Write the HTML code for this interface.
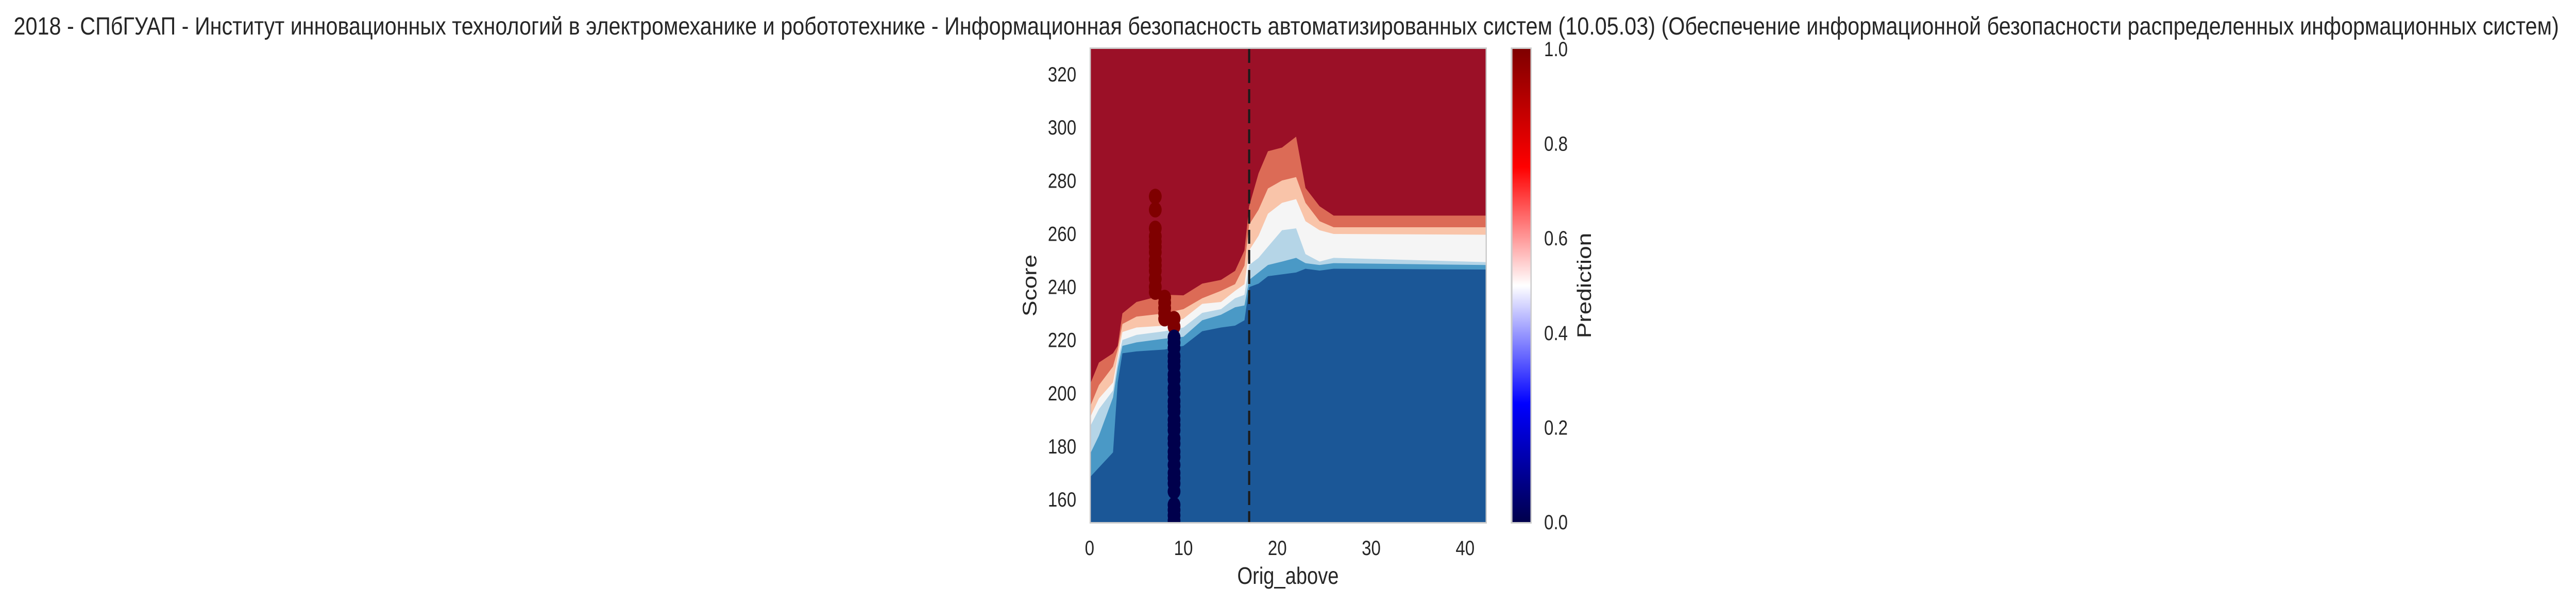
<!DOCTYPE html>
<html><head><meta charset="utf-8"><style>
html,body{margin:0;padding:0;background:#fff;width:100%;height:100%;overflow:hidden;}
svg{display:block;font-family:"Liberation Sans","DejaVu Sans",sans-serif;overflow:hidden;width:100vw;height:100vh;}
</style></head><body>
<svg id="chart" viewBox="0 0 6036 1174" preserveAspectRatio="none" xmlns="http://www.w3.org/2000/svg">
<defs>
<linearGradient id="seis" x1="0" y1="1" x2="0" y2="0">
<stop offset="0" stop-color="#00004c"/><stop offset="0.25" stop-color="#0000ff"/><stop offset="0.5" stop-color="#ffffff"/><stop offset="0.75" stop-color="#ff0000"/><stop offset="1" stop-color="#7f0000"/>
</linearGradient>
<clipPath id="pclip"><rect x="2556" y="95" width="925" height="918"/></clipPath>
</defs>
<text x="32" y="67" font-size="48" fill="#262626" textLength="5964" lengthAdjust="spacingAndGlyphs">2018 - СПбГУАП - Институт инновационных технологий в электромеханике и робототехнике - Информационная безопасность автоматизированных систем (10.05.03) (Обеспечение информационной безопасности распределенных информационных систем)</text>
<rect x="2553" y="92" width="931" height="924" fill="#cccccc"/>
<g id="plot" clip-path="url(#pclip)"></g>
<g id="axes"></g>
<rect x="3540" y="92" width="49" height="924" fill="#cccccc"/>
<rect x="3544" y="95" width="42" height="918" fill="url(#seis)"/>
<text x="0" y="0" font-size="46" fill="#262626" text-anchor="middle" transform="translate(3728,554) rotate(-90)">Prediction</text>
<text x="0" y="0" font-size="46" fill="#262626" text-anchor="middle" transform="translate(2428,554) rotate(-90)">Score</text>
<text x="3018" y="1133" font-size="46" fill="#262626" text-anchor="middle">Orig_above</text>
</svg>
<script>
const xTicks = [0, 10, 20, 30, 40];
const yTicks = [160, 180, 200, 220, 240, 260, 280, 300, 320];
const cbTicks = ["0.0", "0.2", "0.4", "0.6", "0.8", "1.0"];
const gridX = [0, 1, 2.5, 3, 3.5, 5, 8, 10, 12, 14, 15.5, 16.5, 17, 18, 19, 20.5, 22, 23, 24.5, 26, 42.4];
const bRedSalmon = [204, 211.5, 215, 217.8, 230, 234.3, 237, 236.8, 241.2, 242.6, 246, 253.7, 270.3, 282.7, 291, 292.4, 296.5, 277.2, 270.3, 266.8, 266.8];
const bSalmonPeach = [195.6, 203, 210, 216.4, 226, 228.8, 230, 231.6, 235.7, 238.5, 241, 248, 263.4, 269, 277, 280, 281.3, 271.6, 264.7, 262.4, 262.4];
const bPeachWhite = [191.5, 198, 204, 213.6, 223, 224.7, 225.4, 228, 233.6, 234.3, 238.5, 241, 253.7, 259.2, 267.5, 271.6, 273, 264.7, 261.3, 259.9, 259.6];
const bWhiteLight = [188, 194, 201, 212, 220, 221.9, 223.3, 224.7, 230.2, 231.6, 235.7, 237, 248.2, 250.9, 255.1, 261.3, 262, 252.3, 249.5, 250.9, 249.3];
const bLightMid = [177.7, 184, 198.4, 209.5, 217.8, 219.1, 220.5, 221.2, 227.4, 229.5, 232.3, 233, 242.6, 245.4, 248.2, 249.5, 250.9, 248.9, 248.2, 248.9, 248.2];
const bMidDark = [168.7, 172, 177.7, 204, 215, 215.7, 216.4, 217.8, 223.3, 224.7, 225.4, 227.4, 239.9, 241.2, 244, 244.7, 245.4, 246.8, 246.1, 246.8, 246.5];
const posX = [7,7,7,7,7,7,7,7,7,7,7,7,7,8,8,8,8,8,9,9];
const posY = [274,269,262,259,257,255,253,250,248,246,243,240,238,236,234,232,230,228,228,225];
const negX = [9,9,9,9,9,9,9,9,9,9,9,9,9,9,9,9,9,9,9,9,9,9,9,9,9,9,9,9,9];
const negY = [221,219,217,214,212,210,207,205,202,200,197,195,193,190,188,186,183,181,178,176,173,170,168,166,163,158,156,154,152];
const cutoffX = 17;

const X0=2556, X1=3481, Y0=95, Y1=1013;
const yMin=151.5, yMax=329.5;
const sx = v => 2553 + v*22;
const sy = v => Y1 - (v-yMin)/(yMax-yMin)*(Y1-Y0);
const NS='http://www.w3.org/2000/svg';
const plot=document.getElementById('plot'), axes=document.getElementById('axes');
function mk(tag, attrs, parent){const e=document.createElementNS(NS,tag);for(const k in attrs)e.setAttribute(k,attrs[k]);parent.appendChild(e);return e;}

const bg = mk('rect',{x:X0,y:Y0,width:X1-X0,height:Y1-Y0,fill:'#9b1027'},plot);


const bands=[[bRedSalmon,'#dc6b56','salmon'],[bSalmonPeach,'#f9c4a9','peach'],[bPeachWhite,'#f5f5f5','white'],[bWhiteLight,'#b5d5e7','light-blue'],[bLightMid,'#4a99c6','mid-blue'],[bMidDark,'#1b5797','dark-blue']];
bands.forEach(([arr,col,nm])=>{
  let d='M'+X0+','+Y1;
  gridX.forEach((gx,i)=>{ const xx = i===0? X0 : (i===gridX.length-1? X1 : sx(gx)); d+=' L'+xx+','+sy(arr[i]); });
  d+=' L'+X1+','+Y1+' Z';
  const p=mk('path',{d:d,fill:col},plot);
  
  
});
posX.forEach((v,i)=>{
  const c=mk('circle',{cx:sx(v),cy:sy(posY[i]),r:15,fill:'#7f0000'},plot);
  
  
});
negX.forEach((v,i)=>{
  const c=mk('circle',{cx:sx(v),cy:sy(negY[i]),r:15,fill:'#00004c'},plot);
  
  
});
const ln=mk('line',{x1:sx(cutoffX),x2:sx(cutoffX),y1:Y0,y2:Y1,stroke:'#1a1a1a','stroke-width':5,'stroke-dasharray':'27,12'},plot);



xTicks.forEach(v=>{
  const t=mk('text',{x:sx(v),y:1077,'font-size':40,'text-anchor':'middle',fill:'#262626'},axes);
  t.textContent=v;
  
  
});
yTicks.forEach(v=>{
  const t=mk('text',{x:2522,y:sy(v)+14,'font-size':40,'text-anchor':'end',fill:'#262626'},axes);
  t.textContent=v;
  
  
});
cbTicks.forEach((v,i)=>{
  const t=mk('text',{x:3618,y:Y1-(Y1-Y0)*i/(cbTicks.length-1)+14,'font-size':40,fill:'#262626'},axes);
  t.textContent=v;
  
  
});
</script>
</body></html>
